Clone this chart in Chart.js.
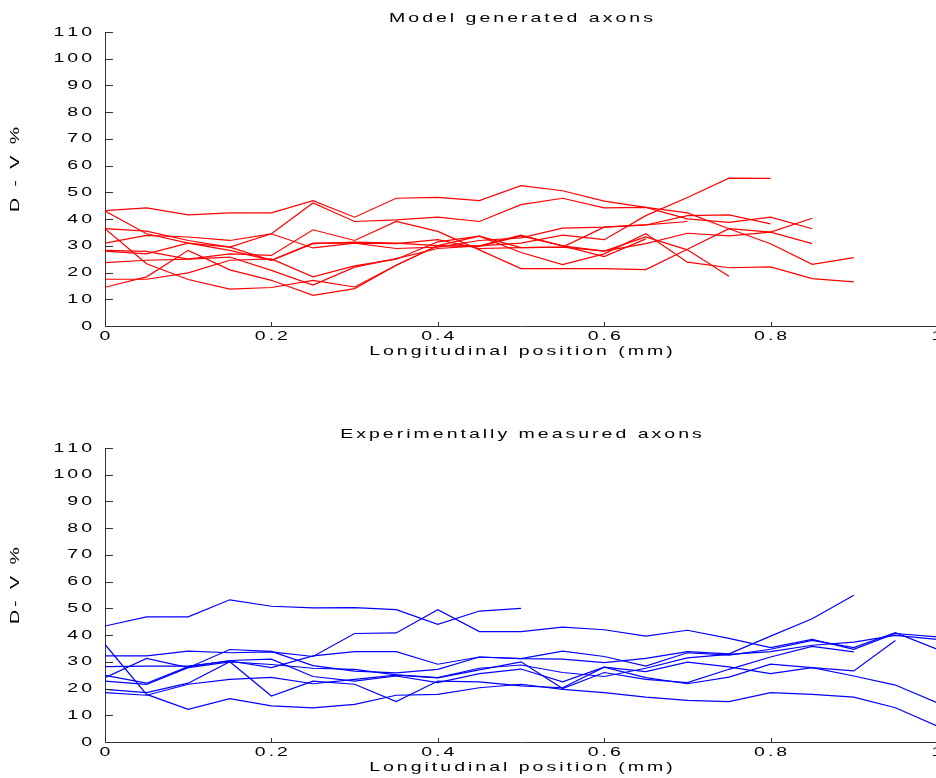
<!DOCTYPE html>
<html>
<head>
<meta charset="utf-8">
<script src="https://cdn.jsdelivr.net/npm/chart.js@4.4.0/dist/chart.umd.min.js"></script>
<style>
  html, body { margin: 0; padding: 0; background: #fff; overflow: hidden; width: 936px; height: 778px; }
  .panel { position: absolute; left: 0; width: 945px; height: 389px; }
  #topPanel { top: 0; }
  #bottomPanel { top: 389px; }
</style>
</head>
<body>
<div class="panel" id="topPanel"><canvas id="modelChart"></canvas></div>
<div class="panel" id="bottomPanel"><canvas id="measuredChart"></canvas></div>
<script>
// Sampling positions along the axon (mm)
const positions = [0, 0.05, 0.1, 0.15, 0.2, 0.25, 0.3, 0.35, 0.4, 0.45, 0.5,
                   0.55, 0.6, 0.65, 0.7, 0.75, 0.8, 0.85, 0.9, 0.95, 1];

// Axis ticks
const xTicks = [0, 0.2, 0.4, 0.6, 0.8, 1];
const yTicks = [0, 10, 20, 30, 40, 50, 60, 70, 80, 90, 100, 110];

// Model generated axons: D-V % at each position
const model1 = [43.2, 44.2, 41.6, 42.3, 42.3, 46.9, 40.7, 47.8, 48.1, 46.9, 52.5, 50.6, 46.7, 44.4, 42.3, 36.4, 30.8, 23.1, 25.6];
const model2 = [36.4, 35.5, 32.0, 29.5, 34.5, 46.0, 39.1, 39.7, 40.7, 39.1, 45.4, 47.8, 44.2, 44.4, 40.1, 38.8, 40.7, 36.4];
const model3 = [43.0, 34.5, 31.0, 28.3, 24.6, 30.8, 31.4, 31.0, 30.1, 29.8, 33.7, 30.0, 28.0, 33.3, 28.5, 18.6];
const model4 = [36.4, 23.3, 17.4, 13.8, 14.4, 17.1, 14.6, 22.7, 30.1, 33.6, 29.3, 29.5, 37.0, 37.8, 41.3, 41.6, 38.2];
const model5 = [14.5, 18.4, 28.3, 21.0, 17.1, 11.5, 14.0, 22.7, 30.0, 30.0, 31.0, 34.0, 32.3, 41.3, 48.1, 55.3, 55.2];
const model6 = [17.5, 17.5, 19.9, 24.6, 25.1, 18.4, 22.5, 25.0, 31.5, 33.6, 27.5, 23.0, 27.0, 34.5, 23.9, 21.8, 22.1, 17.7, 16.5];
const model7 = [31.0, 33.9, 33.3, 32.0, 34.5, 29.2, 31.0, 30.8, 32.3, 29.0, 29.3, 29.5, 28.0, 30.8, 34.7, 33.7, 35.1, 30.8];
const model8 = [28.3, 27.9, 25.0, 27.0, 26.4, 36.0, 32.0, 39.1, 35.4, 28.5, 21.5, 21.5, 21.5, 21.1, 28.7, 36.4, 35.1, 40.3];
const model9 = [28.0, 27.0, 31.0, 29.5, 24.6, 31.0, 31.0, 29.0, 29.5, 32.0, 33.0, 36.6, 37.0, 37.8, 39.1];
const model10 = [23.7, 24.6, 25.0, 25.8, 20.8, 15.3, 22.0, 25.2, 29.0, 30.0, 34.0, 30.0, 26.0, 32.6];

// Experimentally measured axons: D-V % at each position
const measured1 = [43.4, 46.8, 46.8, 53.2, 50.8, 50.2, 50.3, 49.5, 44.0, 49.0, 50.0];
const measured2 = [32.2, 32.2, 34.0, 33.4, 33.7, 32.0, 40.6, 40.8, 49.5, 41.3, 41.3, 43.0, 42.0, 39.6, 41.8, 38.8, 35.3, 38.4, 34.7, 40.6, 39.3];
const measured3 = [36.5, 17.8, 12.2, 16.2, 13.5, 12.8, 14.1, 17.5, 17.8, 20.3, 21.6, 19.7, 18.5, 16.8, 15.6, 15.1, 18.5, 17.8, 16.8, 12.8, 6.0];
const measured4 = [28.2, 28.4, 28.4, 30.3, 27.8, 32.2, 33.8, 33.8, 29.1, 31.8, 31.2, 31.0, 29.7, 31.3, 33.8, 33.0, 39.6, 46.1, 54.9];
const measured5 = [24.1, 31.3, 27.8, 34.6, 33.9, 28.6, 26.5, 25.9, 27.2, 31.8, 31.2, 34.0, 32.0, 28.4, 33.4, 32.5, 34.7, 38.0, 35.3, 40.9, 34.7];
const measured6 = [24.9, 22.0, 28.2, 30.5, 31.0, 24.5, 22.8, 24.7, 22.2, 25.6, 27.3, 22.5, 28.0, 26.3, 29.9, 28.1, 25.6, 27.8, 26.6, 38.0];
const measured7 = [22.8, 21.6, 27.8, 30.0, 29.0, 27.6, 27.2, 25.1, 24.1, 27.6, 28.8, 26.0, 24.5, 27.6, 31.5, 32.8, 33.8, 36.2, 37.4, 39.9, 38.4];
const measured8 = [19.7, 18.5, 22.0, 30.0, 17.2, 22.8, 21.6, 15.1, 22.8, 22.5, 21.0, 20.3, 28.0, 24.1, 21.8, 24.3, 29.1, 27.8, 24.7, 21.3, 14.7];
const measured9 = [18.5, 17.5, 21.6, 23.4, 24.2, 21.8, 23.4, 25.0, 24.0, 27.0, 30.0, 20.0, 26.0, 23.4, 22.2, 27.2, 31.8, 35.8, 33.7];

const modelSeries = [model1, model2, model3, model4, model5, model6, model7, model8, model9, model10];
const measuredSeries = [measured1, measured2, measured3, measured4, measured5, measured6, measured7, measured8, measured9];

// Wide, loosely spaced lettering in the style of the printed figure
const TEXT_FONT = '13px "Liberation Sans", Arial, sans-serif';
const STRETCH = 1.5;
const SPACING = 2;

function wideWidth(ctx, s) {
  let w = 0;
  for (const ch of s) w += ctx.measureText(ch).width + SPACING;
  return w - SPACING;
}

function drawWide(ctx, s, x, y, align, rotation) {
  ctx.save();
  ctx.translate(x, y);
  if (rotation) ctx.rotate(rotation);
  ctx.scale(STRETCH, 1);
  ctx.font = TEXT_FONT;
  ctx.fillStyle = '#000';
  ctx.textBaseline = 'middle';
  ctx.textAlign = 'left';
  const total = wideWidth(ctx, s);
  let cx = align === 'center' ? -total / 2 : align === 'right' ? -total : 0;
  for (const ch of s) {
    ctx.fillText(ch, cx, 0);
    cx += ctx.measureText(ch).width + SPACING;
  }
  ctx.restore();
}

function fmtX(v) {
  const r = Math.round(v * 10) / 10;
  return r === 0 ? '0' : r === 1 ? '1' : r.toFixed(1);
}

// Inward tick marks, tick labels and titles, placed through the chart's scales
const axisFrame = {
  id: 'axisFrame',
  afterDraw(chart, args, opts) {
    const { ctx, chartArea: a, scales: { x, y } } = chart;
    ctx.save();
    ctx.strokeStyle = '#333';
    ctx.lineWidth = 1;
    ctx.beginPath();
    xTicks.forEach(v => {
      const px = Math.round(x.getPixelForValue(v)) + 0.5;
      ctx.moveTo(px, a.bottom);
      ctx.lineTo(px, a.bottom - 4);
    });
    yTicks.forEach(v => {
      const py = Math.round(y.getPixelForValue(v)) + 0.5;
      ctx.moveTo(a.left, py);
      ctx.lineTo(a.left + 8, py);
    });
    ctx.stroke();
    ctx.restore();

    xTicks.forEach(v => drawWide(ctx, fmtX(v), x.getPixelForValue(v), a.bottom + 10.5, 'center'));
    yTicks.forEach(v => drawWide(ctx, String(v), a.left - 13, y.getPixelForValue(v), 'right'));

    const cx = (a.left + a.right) / 2;
    drawWide(ctx, opts.title, cx, a.top - 13.5, 'center');
    drawWide(ctx, opts.xLabel, cx, a.bottom + 25.5, 'center');
    drawWide(ctx, opts.yLabel, 15, (a.top + a.bottom) / 2 - 9.5, 'center', -Math.PI / 2);
  }
};

function makeChart(canvasId, series, color, padding, texts) {
  const datasets = series.map(vals => ({
    data: vals.map((v, i) => ({ x: positions[i], y: v })),
    borderColor: color,
    borderWidth: 1.2,
    pointRadius: 0,
    tension: 0,
    fill: false
  }));
  return new Chart(document.getElementById(canvasId), {
    type: 'line',
    data: { datasets },
    plugins: [axisFrame],
    options: {
      responsive: true,
      maintainAspectRatio: false,
      animation: false,
      devicePixelRatio: 1,
      layout: { padding },
      plugins: {
        legend: { display: false },
        tooltip: { enabled: false },
        axisFrame: texts
      },
      scales: {
        x: {
          type: 'linear', min: 0, max: 1,
          ticks: { display: false, stepSize: 0.2 },
          grid: { display: false, drawTicks: false },
          border: { display: true, color: '#333', width: 1 }
        },
        y: {
          type: 'linear', min: 0, max: 110,
          ticks: { display: false, stepSize: 10 },
          grid: { display: false, drawTicks: false },
          border: { display: true, color: '#333', width: 1 }
        }
      }
    }
  });
}

makeChart('modelChart', modelSeries, '#ff0000',
  { left: 105, right: 8, top: 32, bottom: 63 },
  { title: 'Model generated axons', xLabel: 'Longitudinal position (mm)', yLabel: 'D - V %' });

makeChart('measuredChart', measuredSeries, '#0000ff',
  { left: 105, right: 8, top: 59, bottom: 36 },
  { title: 'Experimentally measured axons', xLabel: 'Longitudinal position (mm)', yLabel: 'D- V %' });
</script>
</body>
</html>
